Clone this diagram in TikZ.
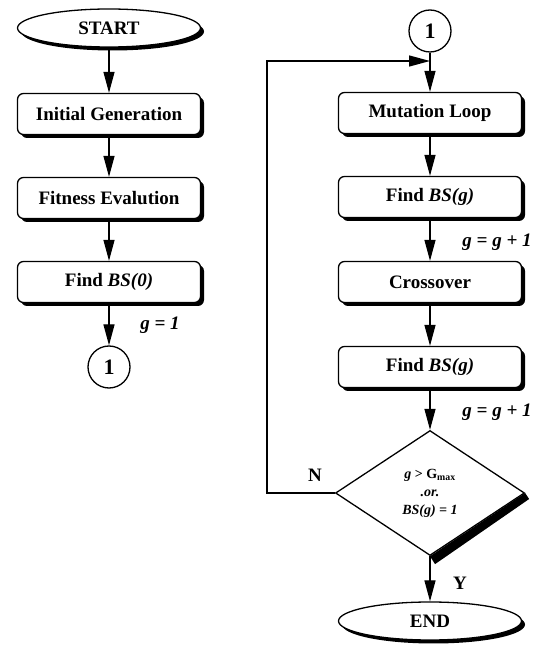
\documentclass[tikz,border=0pt]{standalone}
\usepackage{fontspec}
\setmainfont{Liberation Serif}
\usetikzlibrary{shapes.geometric,shadows,arrows.meta}

\begin{document}
\begin{tikzpicture}[x=1pt,y=1pt,
        every node/.style={font=\bfseries\fontsize{19}{22}\selectfont},
        shd/.style={drop shadow={shadow xshift=3.5pt,shadow yshift=-3.5pt,opacity=1,fill=black}},
        blk/.style={draw,line width=1.3pt,rounded corners=6pt,fill=white,shd,
            minimum width=183pt,minimum height=41pt,inner sep=0pt},
        term/.style={draw,ellipse,line width=1.3pt,fill=white,shd,
            minimum width=183pt,minimum height=38pt,inner sep=0pt},
        conn/.style={draw,circle,line width=1.3pt,minimum size=42pt,inner sep=0pt,
            font=\bfseries\fontsize{22}{24}\selectfont},
        decide/.style={draw,diamond,line width=1.3pt,fill=white,minimum width=189pt,
            minimum height=125pt,inner sep=0pt,align=center,
            font=\bfseries\fontsize{14}{18}\selectfont},
        lbl/.style={font=\bfseries\itshape\fontsize{19}{22}\selectfont},
        arr/.style={line width=1.3pt,-{Triangle[length=21pt,width=11pt]}}]
    \useasboundingbox (0,0) rectangle (547,649);

    % left column
    \node[term] (start) at (109,621) {START};
    \node[blk] (init) at (109,535) {Initial Generation};
    \node[blk] (fit) at (109,451) {Fitness Evalution};
    \node[blk] (bs0) at (109,367) {Find \textit{BS(0)}};
    \node[conn] (c1a) at (109,282) {1};
    \node[lbl] (g1) at (160,324) {g = 1};

    \draw[arr] (start) -- (init);
    \draw[arr] (init) -- (fit);
    \draw[arr] (fit) -- (bs0);
    \draw[arr] (bs0) -- (c1a);

    % right column
    \node[conn] (c1b) at (430,618) {1};
    \coordinate (join) at (430,588);
    \node[blk] (mut) at (430,536) {Mutation Loop};
    \node[blk] (bsg1) at (430,452) {Find \textit{BS(g)}};
    \node[lbl] (g2) at (497,407) {g = g + 1};
    \node[blk] (cross) at (430,367) {Crossover};
    \node[blk] (bsg2) at (430,282) {Find \textit{BS(g)}};
    \node[lbl] (g3) at (497,237) {g = g + 1};
    \node[decide] (dia) at (430,156)
        {\textit{g} > G\textsubscript{max}\\ \textit{.or.}\\ \textit{BS(g) = 1}};
    \fill (dia.east) -- (dia.south) -- ++(5,-8) -- ([shift={(4,-6)}]dia.east) -- cycle;
    \node (n) at (315,174) {N};
    \node (y) at (460,66) {Y};
    \node[term] (end) at (430,28) {END};

    \draw[arr] (c1b) -- (mut);
    \draw[arr] (mut) -- (bsg1);
    \draw[arr] (bsg1) -- (cross);
    \draw[arr] (cross) -- (bsg2);
    \draw[arr] (bsg2) -- (dia);
    \draw[arr] (dia) -- (end);
    \draw[arr] (dia.west) -- ++(-68,0) |- (join);
\end{tikzpicture}
\end{document}
